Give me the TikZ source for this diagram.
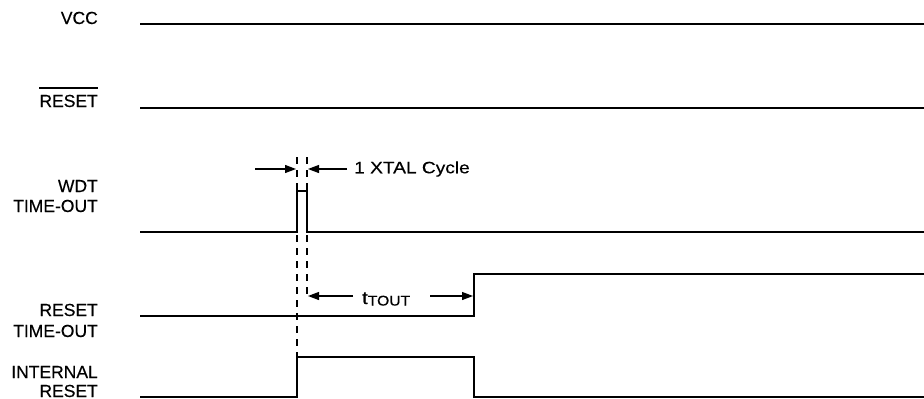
\documentclass[tikz,border=0pt]{standalone}
\usepackage{fontspec}
\setmainfont{Liberation Sans}[UprightFeatures={FakeBold=0.35}]
\usetikzlibrary{arrows.meta}
\begin{document}
\begin{tikzpicture}[x=1pt,y=-1pt,
  sig/.style={line width=1.7pt},
  dsh/.style={line width=1.3pt,dash pattern=on 7pt off 6pt},
  dim/.style={line width=1.2pt,-{Triangle[length=11pt,width=8pt]}},
  lbl/.style={anchor=base east,inner sep=0pt,font=\fontsize{17.5}{20}\selectfont}]
\useasboundingbox (0,0) rectangle (924,399);
% labels
\node[lbl] (lvcc) at (98,24) {VCC};
\node[lbl] (lrst) at (98,107) {RESET};
\draw[line width=1.2pt] (lrst.west |- 0,88) -- (lrst.east |- 0,88);
\node[lbl] (lwdt1) at (98,192) {WDT};
\node[lbl] (lwdt2) at (98,212) {TIME-OUT};
\node[lbl] (lrto1) at (98,316) {RESET};
\node[lbl] (lrto2) at (98,337) {TIME-OUT};
\node[lbl] (lir1) at (98,378) {INTERNAL};
\node[lbl] (lir2) at (98,397) {RESET};
% signals
\draw[sig] (140,24) -- (924,24);
\draw[sig] (140,108) -- (924,108);
\draw[sig] (140,232) -- (297,232) -- (297,191) -- (307,191) -- (307,232) -- (924,232);
\draw[sig] (140,316) -- (474,316) -- (474,274) -- (924,274);
\draw[sig] (140,397) -- (297,397) -- (297,357) -- (474,357) -- (474,397) -- (924,397);
% dashed markers
\coordinate (d1t) at (297,157);
\coordinate (d1b) at (297,357);
\coordinate (d2t) at (307,157);
\coordinate (d2b) at (307,300);
\draw[dsh] (d1t) -- (d1b);
\draw[dsh] (d2t) -- (d2b);
% XTAL cycle
\coordinate (xa) at (255,169);
\coordinate (xb) at (296,169);
\coordinate (xc) at (347,169);
\coordinate (xd) at (308,169);
\draw[dim] (xa) -- (xb);
\draw[dim] (xc) -- (xd);
\node[anchor=west,inner sep=0pt,font=\fontsize{16.5}{19}\selectfont] (xtal) at (354,169) {\scalebox{1.16}[1]{1 XTAL Cycle}};
% tTOUT
\node[inner sep=0pt,anchor=base west,font=\fontsize{18}{20}\selectfont] (tt) at (362,304) {\scalebox{1.12}[1]{t\raisebox{-1.5pt}{\fontsize{14}{16}\selectfont TOUT}}};
\coordinate (ta) at (308,296);
\coordinate (tb) at (473,296);
\coordinate (tl) at (353,296);
\coordinate (tr) at (430,296);
\draw[dim] (tl) -- (ta);
\draw[dim] (tr) -- (tb);
\end{tikzpicture}
\end{document}
